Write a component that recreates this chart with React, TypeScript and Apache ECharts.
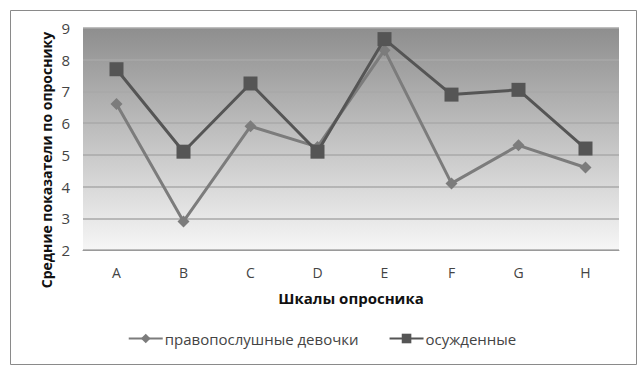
import React, { useEffect, useRef } from "react";
import * as echarts from "echarts";

const categories = ["A", "B", "C", "D", "E", "F", "G", "H"];
const girls = [6.6, 2.9, 5.9, 5.25, 8.3, 4.1, 5.3, 4.6];
const convicts = [7.7, 5.1, 7.25, 5.1, 8.65, 6.9, 7.05, 5.2];
const seriesNames = ["правопослушные девочки", "осужденные"];
const yTitle = "Средние показатели по опроснику";
const xTitle = "Шкалы опросника";

export default function App() {
  const ref = useRef<HTMLDivElement>(null);
  useEffect(() => {
    if (!ref.current) return;
    const chart = echarts.init(ref.current, null, { renderer: "svg" });
    const font = "'Open Sans', 'Liberation Sans', sans-serif";
    chart.setOption({
      animation: false,
      backgroundColor: "#ffffff",
      textStyle: { fontFamily: font },
      graphic: [
        {
          type: "rect",
          shape: { x: 10.5, y: 10.5, width: 626, height: 354 },
          style: { fill: "none", stroke: "#8a8a8a", lineWidth: 1 },
          silent: true,
        },
        {
          type: "text",
          x: 46,
          y: 160,
          rotation: Math.PI / 2,
          style: {
            text: yTitle,
            fontSize: 14,
            fontWeight: "bold",
            fill: "#111",
            fontFamily: font,
            align: "center",
            verticalAlign: "middle",
          },
          silent: true,
        },
      ],
      grid: {
        left: 83,
        right: 25,
        top: 28,
        bottom: 125,
        show: true,
        borderWidth: 0,
        backgroundColor: new echarts.graphic.LinearGradient(0, 0, 0, 1, [
          { offset: 0, color: "#8e8e8e" },
          { offset: 1, color: "#f6f6f6" },
        ]),
      },
      legend: {
        bottom: 24,
        left: "center",
        itemWidth: 34,
        itemHeight: 12,
        itemGap: 30,
        textStyle: { fontSize: 15, color: "#444", fontFamily: font, padding: [0, 0, 0, -3] },
        data: seriesNames,
      },
      xAxis: {
        type: "category",
        data: categories,
        boundaryGap: true,
        name: xTitle,
        nameLocation: "middle",
        nameGap: 40,
        nameTextStyle: { fontSize: 15, fontWeight: "bold", color: "#111", fontFamily: font },
        axisLine: { show: true, lineStyle: { color: "#9a9a9a", width: 1 } },
        axisTick: { show: false },
        axisLabel: { color: "#444", fontSize: 14, margin: 15, fontFamily: font },
      },
      yAxis: {
        type: "value",
        min: 2,
        max: 9,
        interval: 1,
        axisLine: { show: false },
        axisTick: { show: false },
        axisLabel: { color: "#444", fontSize: 15, margin: 13, fontFamily: font },
        splitLine: { show: true, lineStyle: { color: "#a8a8a8", width: 1.5 } },
      },
      series: [
        {
          name: seriesNames[0],
          type: "line",
          data: girls,
          symbol: "diamond",
          symbolSize: 12,
          lineStyle: { color: "#7c7c7c", width: 3 },
          itemStyle: { color: "#7c7c7c" },
          z: 2,
        },
        {
          name: seriesNames[1],
          type: "line",
          data: convicts,
          symbol: "rect",
          symbolSize: 14,
          lineStyle: { color: "#555555", width: 3 },
          itemStyle: { color: "#555555" },
          z: 3,
        },
      ],
    });
    return () => chart.dispose();
  }, []);
  return (
    <div
      ref={ref}
      style={{ position: "absolute", left: 0, top: 0, width: 644, height: 375 }}
    />
  );
}
